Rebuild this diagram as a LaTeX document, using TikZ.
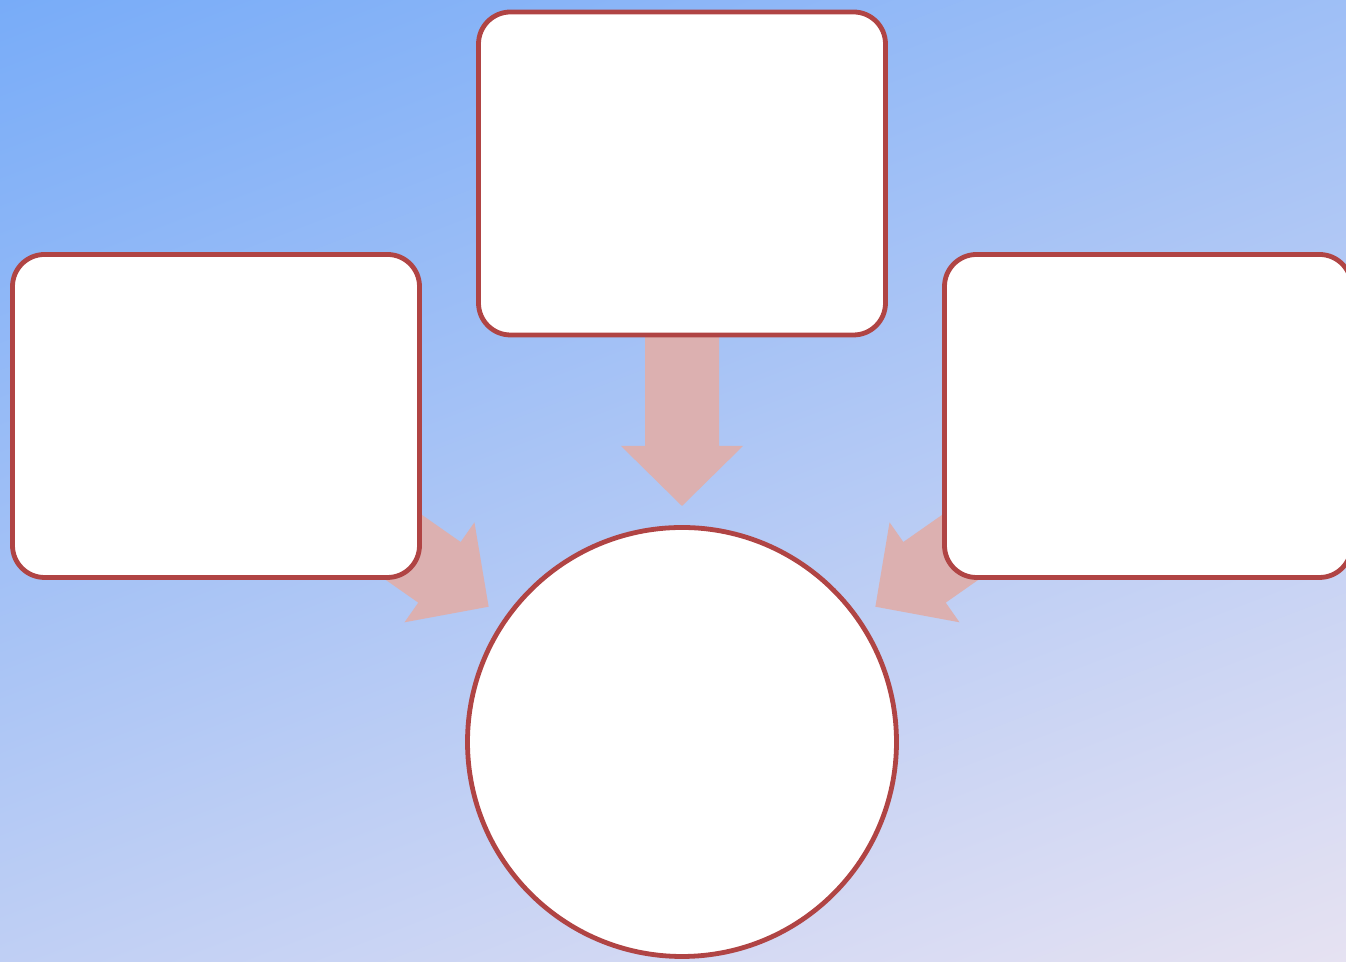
\documentclass[tikz,border=0pt]{standalone}
\usepackage{xcolor}
\usepackage{tikz}
\usetikzlibrary{calc,backgrounds}

\definecolor{rimred}{HTML}{B04444}
\definecolor{arrowpink}{HTML}{DCB0B0}
\definecolor{skytop}{HTML}{78ACF8}
\definecolor{skybottom}{HTML}{E6E2F2}

\tikzset{
	card/.style={draw=rimred, line width=2.4pt, fill=white, rounded corners=16pt,
		minimum width=203.5pt, minimum height=161.5pt, inner sep=0pt},
	hub/.style={draw=rimred, line width=2.4pt, fill=white, circle,
		minimum size=214.5pt, inner sep=0pt},
	arrowfill/.style={fill=arrowpink},
}

% block arrow from the centre of #1 towards the centre of #2
\newcommand\blockarrow[2]{%
	\path ($(#2.center)!118pt!(#1.center)$) coordinate (tip-#1);
	\pgfmathanglebetweenpoints{\pgfpointanchor{#2}{center}}{\pgfpointanchor{#1}{center}}%
	\let\arrowangle\pgfmathresult
	\fill[arrowfill, shift={(tip-#1)}, rotate=\arrowangle]
		(0,0) -- (30pt,30.5pt) -- (30pt,18.5pt) -- (160pt,18.5pt)
		-- (160pt,-18.5pt) -- (30pt,-18.5pt) -- (30pt,-30.5pt) -- cycle;
}

\begin{document}
\begin{tikzpicture}
	\useasboundingbox (0,0) rectangle (673pt,481pt);

	\node[card] (top) at (341pt,394.25pt) {};
	\node[card] (left) at (108pt,273pt) {};
	\node[card] (right) at (574pt,273pt) {};
	\node[hub] (goal) at (341pt,110pt) {};

	\begin{scope}[on background layer]
		% tilted sky
		\begin{scope}
			\clip (0,0) rectangle (673pt,481pt);
			\begin{scope}[transform canvas={shift={(336.5pt,240.5pt)}, rotate=21}]
				\shade[top color=skytop, bottom color=skybottom]
					(-420pt,-345pt) rectangle (420pt,345pt);
			\end{scope}
		\end{scope}
		\blockarrow{top}{goal}
		\blockarrow{left}{goal}
		\blockarrow{right}{goal}
	\end{scope}
\end{tikzpicture}
\end{document}
